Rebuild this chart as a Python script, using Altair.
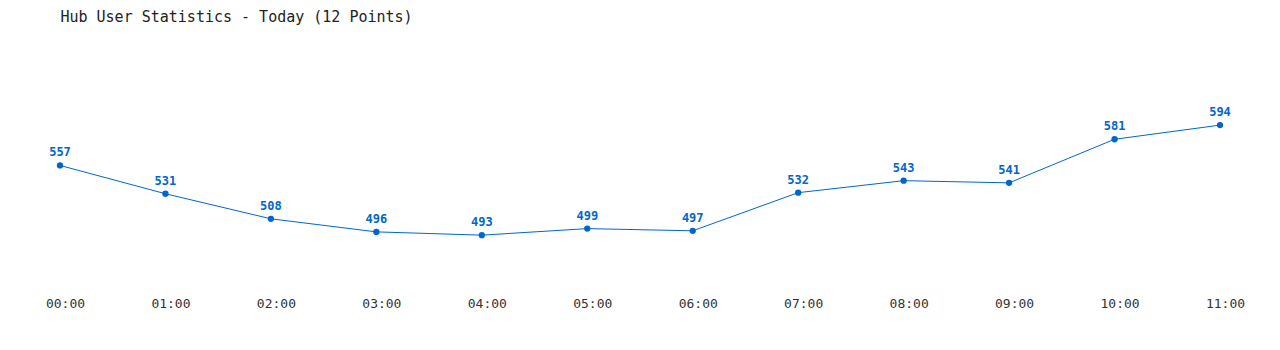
import altair as alt
import pandas as pd

hours = ["00:00", "01:00", "02:00", "03:00", "04:00", "05:00",
         "06:00", "07:00", "08:00", "09:00", "10:00", "11:00"]
users = [557, 531, 508, 496, 493, 499, 497, 532, 543, 541, 581, 594]

df = pd.DataFrame({"hour": hours, "users": users})

FONT = "DejaVu Sans Mono"
BLUE = "#0066cc"

x = alt.X("hour:N", sort=hours,
          scale=alt.Scale(type="point", padding=0),
          axis=alt.Axis(title=None, labelAngle=0, domain=False, ticks=False,
                        labelFont=FONT, labelFontSize=13, labelColor="#333333",
                        labelPadding=15, labelOffset=5, grid=False))
y = alt.Y("users:Q", scale=alt.Scale(domain=[450, 640], nice=False, zero=False),
          axis=None)

base = alt.Chart(df).encode(x=x, y=y)

line = base.mark_line(color=BLUE, strokeWidth=1)
pts = base.mark_circle(color=BLUE, size=40, opacity=1)
labels = base.mark_text(color=BLUE, font=FONT, fontSize=12, fontWeight="bold",
                        dy=-13, baseline="middle").encode(text="users:Q")

chart = (line + pts + labels).properties(
    width=1160, height=207,
    title=alt.TitleParams("Hub User Statistics - Today (12 Points)",
                          anchor="start", font=FONT, fontSize=15,
                          fontWeight="normal", color="#222222", offset=50,
                          dx=15),
    autosize=alt.AutoSizeParams(type="none"),
    padding={"left": 60, "top": 75, "right": 60, "bottom": 68},
).configure(background="white").configure_view(stroke=None, strokeWidth=0)

chart.save("out.html", embed_options={"renderer": "svg", "actions": False})
